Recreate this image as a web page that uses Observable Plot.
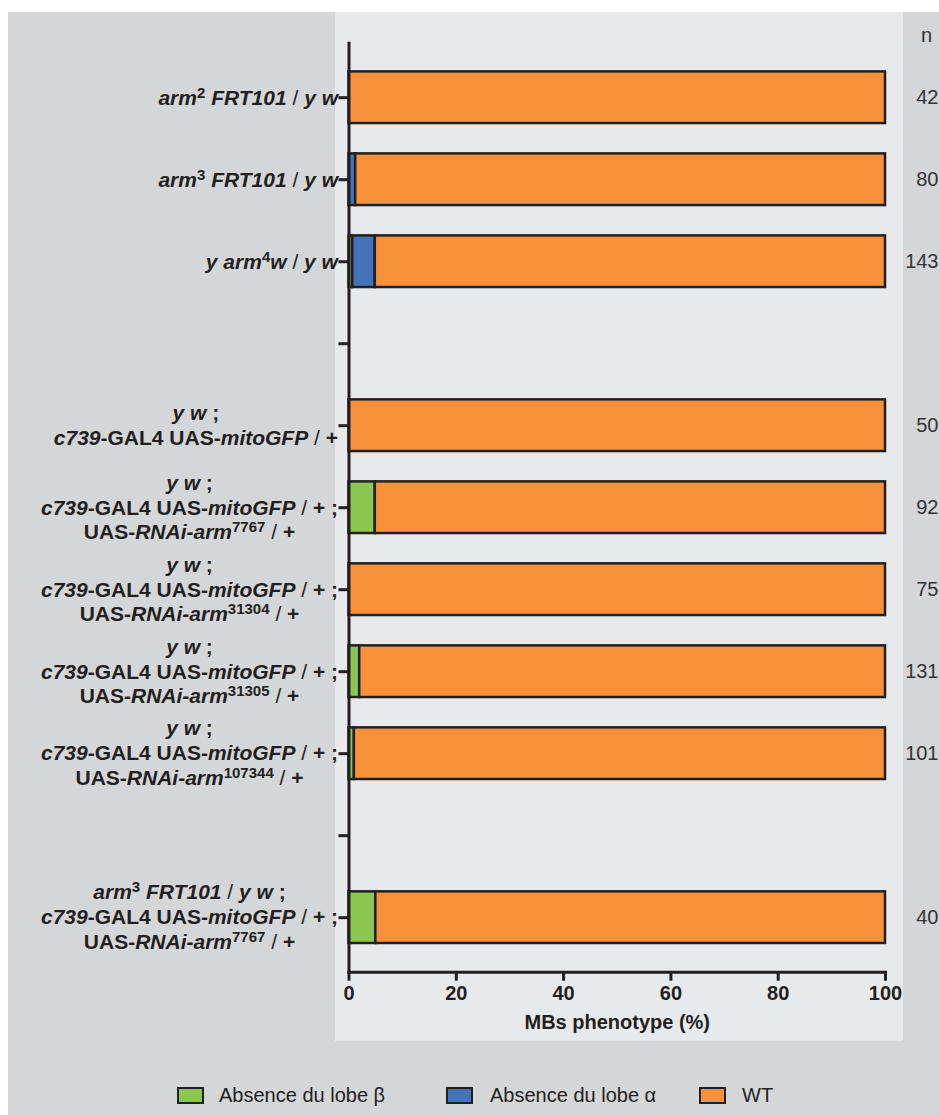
<!DOCTYPE html>
<html>
<head>
<meta charset="utf-8">
<script src="https://cdn.jsdelivr.net/npm/d3@7"></script>
<script src="https://cdn.jsdelivr.net/npm/@observablehq/plot@0.6"></script>
<style>
  html, body { margin: 0; padding: 0; background: #ffffff; overflow: hidden; }
  #bg { position: absolute; left: 8px; top: 12px; width: 931px; height: 1103px; background: #d5d6d8; }
  #panel { position: absolute; left: 327px; top: 0; width: 568px; height: 1029px; background: #e8e9eb; }
  #chart { position: absolute; left: 0; top: 0; }
  .lg-sw { position: absolute; width: 27px; height: 17px; box-sizing: border-box; border: 2px solid #231f20; }
  .lg-tx { position: absolute; font-family: 'Liberation Sans', Arial, Helvetica, sans-serif; font-size: 20px; color: #231f20; line-height: 24px; white-space: nowrap; }
</style>
</head>
<body>
<div id="bg">
  <div id="panel"></div>
  <div id="chart"></div>
  <div id="legend"></div>
</div>
<script>
// ---- data ----
// genotype labels: *...* = italic, ^...^ = superscript, \n = new line; "" = empty spacer row
const genotypes = [
  "*arm*^2^ *FRT101* / *y w*",
  "*arm*^3^ *FRT101* / *y w*",
  "*y arm*^4^*w* / *y w*",
  "",
  "*y w* ;\n*c739*-GAL4 UAS-*mitoGFP* / +",
  "*y w* ;\n*c739*-GAL4 UAS-*mitoGFP* / + ;\nUAS-*RNAi-arm*^7767^ / +",
  "*y w* ;\n*c739*-GAL4 UAS-*mitoGFP* / + ;\nUAS-*RNAi-arm*^31304^ / +",
  "*y w* ;\n*c739*-GAL4 UAS-*mitoGFP* / + ;\nUAS-*RNAi-arm*^31305^ / +",
  "*y w* ;\n*c739*-GAL4 UAS-*mitoGFP* / + ;\nUAS-*RNAi-arm*^107344^ / +",
  "",
  "*arm*^3^ *FRT101* / *y w* ;\n*c739*-GAL4 UAS-*mitoGFP* / + ;\nUAS-*RNAi-arm*^7767^ / +"
];
const phenotypes = ["Absence du lobe β", "Absence du lobe α", "WT"];
const phenotypeColors = ["#8bc653", "#4374b9", "#f7923a"];
const absenceBeta  = [0, 0,    0.7, null, 0,   4.9, 0,   2.0,  1.0, null, 5.0];
const absenceAlpha = [0, 1.25, 4.2, null, 0,   0,   0,   0,    0,   null, 0];
const wildType     = [100, 98.75, 95.1, null, 100, 95.1, 100, 98.0, 99.0, null, 95.0];
const nCounts      = [42, 80, 143, null, 50, 92, 75, 131, 101, null, 40];
const xTicks = [0, 20, 40, 60, 80, 100];
const xLabel = "MBs phenotype (%)";
const nHeader = "n";

// ---- helpers ----
const plain = s => s.replace(/[*^]/g, "");
function parse(line) {
  const segs = []; let it = false, sup = false, buf = "";
  const flush = () => {
    if (!buf) return;
    // slashes are set in regular weight
    buf.split(/(\/)/).forEach(p => { if (p) segs.push({t: p, it, sup, thin: p === "/"}); });
    buf = "";
  };
  for (const ch of line) {
    if (ch === "*" || ch === "^") {
      flush();
      if (ch === "*") it = !it; else sup = !sup;
    } else buf += ch;
  }
  flush();
  return segs;
}

const rows = d3.range(genotypes.length);
const series = [absenceBeta, absenceAlpha, wildType];
const segments = rows.flatMap(i => series.map((s, k) => ({row: i, phenotype: phenotypes[k], value: s[i]})))
  .filter(d => d.value != null && d.value > 0);
const nRows = rows.filter(i => nCounts[i] != null);

const ink = "#231f20";
const chart = Plot.plot({
  width: 931,
  height: 1028,
  marginLeft: 340.5,
  marginRight: 54,
  marginTop: 30.7,
  marginBottom: 68.3,
  style: {
    background: "transparent",
    fontFamily: "'Liberation Sans', Arial, Helvetica, sans-serif",
    fontSize: "20px",
    fontWeight: "bold",
    color: ink,
    overflow: "visible"
  },
  x: {domain: [0, 100]},
  y: {domain: rows, paddingInner: 0.37, paddingOuter: 0.35, round: false},
  color: {domain: phenotypes, range: phenotypeColors},
  marks: [
    Plot.barX(segments, {y: "row", x: "value", fill: "phenotype", stroke: ink, strokeWidth: 2.5}),
    Plot.frame({anchor: "left", stroke: ink, strokeWidth: 3}),
    Plot.frame({anchor: "bottom", stroke: ink, strokeWidth: 3}),
    Plot.axisX({ticks: xTicks, tickSize: 9, tickPadding: 5, strokeWidth: 3, label: null, fontWeight: "bold"}),
    Plot.axisY({tickSize: 10, tickPadding: 1, strokeWidth: 3, label: null, lineHeight: 1.25,
      tickFormat: i => plain(genotypes[i])}),
    Plot.text([xLabel], {frameAnchor: "bottom", textAnchor: "middle", lineAnchor: "middle", dy: 50.7, fontWeight: "bold"}),
    Plot.text(nRows, {x: () => 100, y: i => i, text: i => String(nCounts[i]), dx: 53,
      textAnchor: "end", fill: "#333333", fontWeight: "normal"}),
    Plot.text([nHeader], {frameAnchor: "top-right", textAnchor: "middle", lineAnchor: "middle",
      dx: 41, dy: -8, fill: "#333333", fontWeight: "normal"})
  ]
});
document.getElementById("chart").appendChild(chart);

// ---- rich text (italic / superscript) for genotype tick labels ----
const NS = "http://www.w3.org/2000/svg";
const byText = new Map(genotypes.filter(g => g).map(g => [plain(g).replace(/\n/g, ""), g]));
chart.querySelectorAll('g[aria-label="y-axis tick label"] text').forEach(t => {
  const m = byText.get(t.textContent);
  if (!m) return;
  while (t.firstChild) t.removeChild(t.firstChild);
  t.removeAttribute("y");
  t.removeAttribute("dy");
  t.setAttribute("text-anchor", "middle");
  t.setAttribute("font-weight", "bold");
  t.setAttribute("font-size", "21");
  const lines = m.split("\n");
  const lh = 25; // px between lines
  const lineEls = lines.map((line, i) => {
    const L = document.createElementNS(NS, "tspan");
    L.setAttribute("x", 0);
    L.setAttribute("dy", i === 0 ? (-(lines.length - 1) / 2 * lh + 6.8) : lh);
    for (const s of parse(line)) {
      const e = document.createElementNS(NS, "tspan");
      e.textContent = s.t;
      if (s.it) e.setAttribute("font-style", "italic");
      if (s.thin) e.setAttribute("font-weight", "normal");
      if (s.sup) { e.setAttribute("font-size", "15"); e.style.baselineShift = "7.5px"; }
      L.appendChild(e);
    }
    t.appendChild(L);
    return L;
  });
  const w = Math.max(...lineEls.map(L => L.getComputedTextLength()));
  lineEls.forEach(L => L.setAttribute("x", (-w / 2).toFixed(1)));
});

// ---- legend (from the chart's color scale) ----
const color = chart.scale("color");
const legendPos = [[169, 211], [438, 482], [691, 734]];
const legend = document.getElementById("legend");
color.domain.forEach((d, i) => {
  const sw = document.createElement("div");
  sw.className = "lg-sw";
  sw.style.left = legendPos[i][0] + "px";
  sw.style.top = "1075px";
  sw.style.background = color.apply(d);
  legend.appendChild(sw);
  const tx = document.createElement("div");
  tx.className = "lg-tx";
  tx.style.left = legendPos[i][1] + "px";
  tx.style.top = "1071px";
  tx.textContent = d;
  legend.appendChild(tx);
});
</script>
</body>
</html>
